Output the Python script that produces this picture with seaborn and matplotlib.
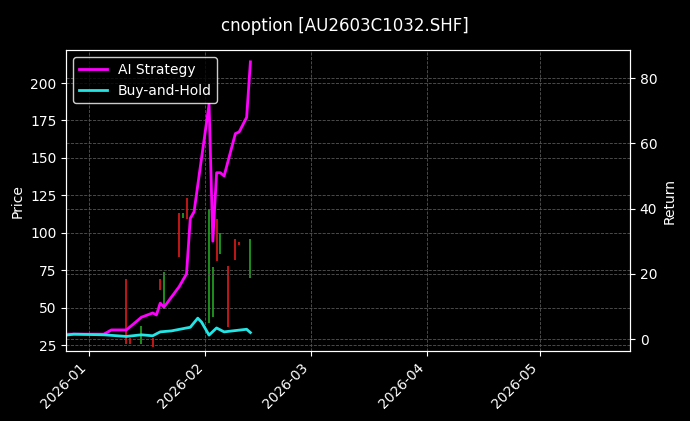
import matplotlib
matplotlib.use("Agg")
import matplotlib.pyplot as plt
import matplotlib.dates as mdates
import seaborn as sns
import pandas as pd

ai_dates = ["2025-12-26","2026-01-05","2026-01-07","2026-01-11","2026-01-15","2026-01-18","2026-01-19",
            "2026-01-20","2026-01-21","2026-01-25","2026-01-27","2026-01-28","2026-01-29","2026-02-02",
            "2026-02-03","2026-02-04","2026-02-05","2026-02-06","2026-02-09","2026-02-10","2026-02-12","2026-02-13"]
ai_ret = [1.5,1.5,2.8,2.8,6.7,8.0,7.4,11.0,9.8,16.0,20.0,37.0,39.0,72.0,30.0,51.0,51.0,50.0,63.0,63.5,68.0,85.0]

bh_dates = ["2025-12-26","2025-12-28","2026-01-05","2026-01-11","2026-01-15","2026-01-18","2026-01-20",
            "2026-01-23","2026-01-27","2026-01-28","2026-01-30","2026-01-31","2026-02-02","2026-02-04",
            "2026-02-06","2026-02-12","2026-02-13"]
bh_ret = [1.2,1.5,1.3,0.8,1.3,1.0,2.2,2.5,3.4,3.6,6.4,5.2,1.2,3.4,2.2,3.0,2.0]

c_dates = ["2026-01-11","2026-01-12","2026-01-15","2026-01-18","2026-01-20","2026-01-21","2026-01-25",
           "2026-01-26","2026-01-27","2026-02-02","2026-02-03","2026-02-04","2026-02-05","2026-02-07",
           "2026-02-09","2026-02-10","2026-02-13"]
c_open = [69,30,26,30,69,49,113,110,123,40,44,109,86,78,96,94,70]
c_close = [26,26,38,24,62,74,84,113,109,116,77,81,100,37,82,92,96]

fig, ax = plt.subplots(figsize=(6.9, 4.21), dpi=100)
fig.patch.set_facecolor("black")
ax.set_facecolor("black")
ax2 = ax.twinx()

cd = pd.to_datetime(c_dates)
for d, o, c in zip(cd, c_open, c_close):
    col = "#1f9a1f" if c >= o else "#d01818"
    ax.vlines(d, min(o, c), max(o, c), color=col, lw=1.3)

df_ai = pd.DataFrame({"date": pd.to_datetime(ai_dates), "ret": ai_ret})
df_bh = pd.DataFrame({"date": pd.to_datetime(bh_dates), "ret": bh_ret})
sns.lineplot(data=df_ai, x="date", y="ret", ax=ax2, color="#ff00ff", lw=2, label="AI Strategy")
sns.lineplot(data=df_bh, x="date", y="ret", ax=ax2, color="#22e6e6", lw=2, label="Buy-and-Hold")

ax.set_xlim(pd.Timestamp("2025-12-26"), pd.Timestamp("2026-05-25"))
ax.set_ylim(21, 222)
ax2.set_ylim(-3.7, 88.6)
ax.set_ylabel("Price", color="white")
ax2.set_ylabel("Return", color="white")
ax.set_xlabel("")
ax2.set_xlabel("")
ax.xaxis.set_major_locator(mdates.MonthLocator())
ax.xaxis.set_major_formatter(mdates.DateFormatter("%Y-%m"))
plt.setp(ax.get_xticklabels(), rotation=45, ha="right")
for a in (ax, ax2):
    a.tick_params(colors="white")
    for s in a.spines.values():
        s.set_color("white")
ax.grid(True, color="#555555", ls="--", lw=0.6)
ax2.grid(True, color="#555555", ls="--", lw=0.6)
leg = ax2.legend(loc="upper left", facecolor="black", edgecolor="white", labelcolor="white")
fig.suptitle("cnoption [AU2603C1032.SHF]", color="white", y=0.96)
fig.subplots_adjust(left=0.096, right=0.913, top=0.881, bottom=0.166)
fig.savefig("out.png", dpi=100, facecolor="black")
